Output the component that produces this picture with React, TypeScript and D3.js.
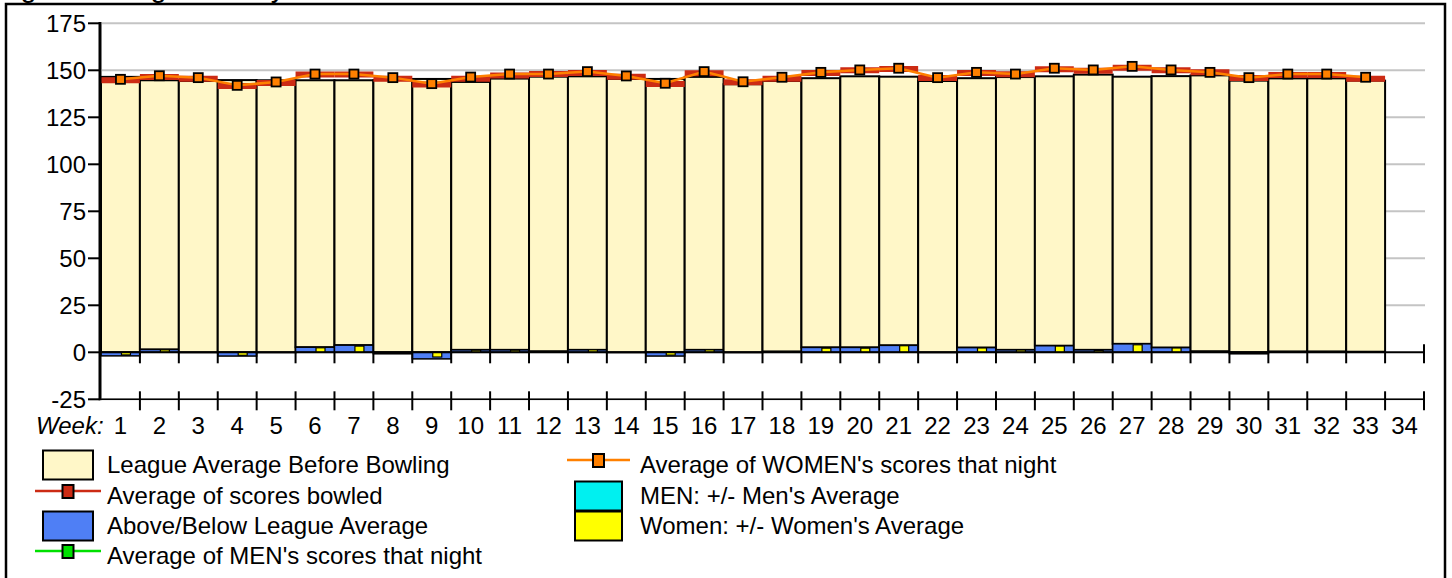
import React from 'react';
import * as d3 from 'd3';

// weeks on the x axis (34 slots, last one empty)
const weeks = ['1', '2', '3', '4', '5', '6', '7', '8', '9', '10', '11', '12', '13', '14', '15', '16', '17',
  '18', '19', '20', '21', '22', '23', '24', '25', '26', '27', '28', '29', '30', '31', '32', '33', '34'];

const leagueAvg = [146.5, 144.7, 144.3, 144.8, 144.7, 144.7, 144.7, 144.8, 145.4, 143.8, 145.6, 146.6, 146.8,
  145.4, 145.4, 146.5, 142.6, 144.3, 145.8, 146.8, 146.6, 144.3, 145.8, 146.4, 146.8, 147.7, 146.6, 146.9,
  147.3, 144.5, 145.7, 145.7, 144.5];

const scoreAvg = [144.7, 146.4, 145.5, 141.6, 143.2, 147.8, 147.8, 145.5, 142.4, 145.5, 147.2, 148.0, 148.6,
  146.6, 142.7, 148.4, 143.6, 145.5, 148.6, 150.0, 150.7, 145.9, 148.6, 147.9, 150.5, 149.8, 151.4, 150.0,
  148.9, 145.9, 147.5, 147.5, 145.5];

const aboveBelow = [-1.9, 1.5, 0, -2.0, 0, 2.7, 3.8, -0.8, -3.5, 1.3, 1.3, 0.5, 1.3, 0, -2.0, 1.3, 0, 0.4,
  2.6, 2.6, 3.7, 0, 2.5, 1.3, 3.5, 1.3, 4.5, 2.5, 0.5, -0.8, 0.4, 0.4, 0.3];

const womenAvg = [145.2, 147.1, 146.1, 142.0, 143.8, 148.0, 148.0, 146.1, 142.9, 146.4, 148.0, 148.0, 149.3,
  147.0, 143.1, 149.3, 143.9, 146.3, 148.9, 150.2, 151.1, 146.1, 148.9, 148.0, 151.1, 150.2, 152.1, 150.2,
  148.9, 146.1, 148.0, 148.0, 146.3];

const womenDiff = [-1.4, 1.3, 0, -1.6, 0, 2.4, 3.3, 0, -2.5, 1.1, 1.1, 0.3, 1.3, 0, -1.5, 1.3, 0, 0.3,
  2.2, 2.2, 3.5, 0, 2.3, 1.2, 3.3, 1.0, 4.0, 2.3, 0.3, 0, 0.3, 0.3, 0.3];

const yTicks = [-25, 0, 25, 50, 75, 100, 125, 150, 175];

const FONT = '"Liberation Sans", Arial, sans-serif';

const App = () => {
  const Width = 1452;
  const Height = 578;

  const xScale = d3.scaleBand().domain(weeks).range([101, 1424]).padding(0);
  const yScale = d3.scaleLinear().domain([-25, 175]).range([399.3, 23.3]);
  const bw = xScale.bandwidth();
  const y0 = yScale(0);
  const yBottom = yScale(-25);

  const data = leagueAvg.map((v, i) => ({
    week: weeks[i],
    league: v,
    score: scoreAvg[i],
    diff: aboveBelow[i],
    women: womenAvg[i],
    wdiff: womenDiff[i],
  }));

  const cx = (w) => xScale(w) + bw / 2;

  const womenLine = d3.line().x((d) => cx(d.week)).y((d) => yScale(d.women));

  const bars = data.map((d) => {
    const base = Math.max(0, d.diff);
    return (
      <g key={d.week}>
        <rect x={xScale(d.week)} y={yScale(d.league)} width={bw} height={yScale(base) - yScale(d.league)}
          fill="#FFF7C8" stroke="#000" strokeWidth={2} />
        {d.diff !== 0 && (
          <rect x={xScale(d.week)} y={yScale(Math.max(0, d.diff))} width={bw}
            height={Math.abs(yScale(d.diff) - y0)} fill="#4F7FF5" stroke="#000" strokeWidth={1.5} />
        )}
        {d.wdiff !== 0 && (
          <rect x={cx(d.week) + 1} y={yScale(Math.max(0, d.wdiff))} width={9}
            height={Math.abs(yScale(d.wdiff) - y0)} fill="#FFFF00" stroke="#000" strokeWidth={1.2} />
        )}
      </g>
    );
  });

  const boundaries = weeks.map((w) => xScale(w) + bw);

  const legendLeft = [
    { label: 'League Average Before Bowling', kind: 'box', color: '#FFF7C8', cy: 465 },
    { label: 'Average of scores bowled', kind: 'line', color: '#CC2B14', cy: 496 },
    { label: 'Above/Below League Average', kind: 'box', color: '#4F7FF5', cy: 526 },
    { label: "Average of MEN's scores that night", kind: 'line', color: '#00E000', cy: 556 },
  ];
  const legendRight = [
    { label: "Average of WOMEN's scores that night", kind: 'line', color: '#FF8000', cy: 465 },
    { label: "MEN: +/- Men's Average", kind: 'box', color: '#00F0F0', cy: 496 },
    { label: "Women: +/- Women's Average", kind: 'box', color: '#FFFF00', cy: 526 },
  ];

  const legendItem = (d, x0, boxX, boxW) => (
    <g key={d.label}>
      {d.kind === 'box' ? (
        <rect x={boxX} y={d.cy - 14.5} width={boxW} height={29} fill={d.color} stroke="#000" strokeWidth={2} />
      ) : (
        <g>
          <line x1={boxX - 8} x2={boxX + boxW + 8} y1={d.cy - 5} y2={d.cy - 5} stroke={d.color} strokeWidth={2.5} />
          <rect x={boxX + boxW / 2 - 5.5} y={d.cy - 11} width={11} height={13} fill={d.color} stroke="#000" strokeWidth={2} />
        </g>
      )}
      <text x={x0} y={d.cy + 8} style={{ fontSize: '24px', fontFamily: FONT }}>{d.label}</text>
    </g>
  );

  return (
    <svg width={Width} height={Height} style={{ position: 'absolute', left: 0, top: 0, background: '#fff' }}>
      <text x={-28} y={-3} style={{ fontSize: '29px', fontFamily: FONT }}>League Average Weekly</text>
      <rect x={6} y={4} width={1439} height={590} fill="none" stroke="#000" strokeWidth={2.5} />

      {/* grid */}
      {yTicks.filter((t) => t !== 0).map((t) => (
        <line key={t} x1={102} x2={1425} y1={yScale(t)} y2={yScale(t)} stroke="#C4C4C4" strokeWidth={2} />
      ))}

      {bars}

      {/* zero line + ticks */}
      <line x1={101} x2={1425} y1={y0} y2={y0} stroke="#000" strokeWidth={2} />
      {boundaries.map((x, i) => (
        <line key={i} x1={x} x2={x} y1={i === boundaries.length - 1 ? y0 - 8 : y0} y2={y0 + 11}
          stroke="#000" strokeWidth={2} />
      ))}

      {/* average of scores bowled */}
      {data.map((d) => (
        <line key={d.week} x1={xScale(d.week)} x2={xScale(d.week) + bw} y1={yScale(d.score)} y2={yScale(d.score)}
          stroke="#CC2B14" strokeWidth={6} />
      ))}

      {/* women's average */}
      <path d={womenLine(data)} fill="none" stroke="#FF8000" strokeWidth={2.5} />
      {data.map((d) => (
        <rect key={d.week} x={cx(d.week) - 4.5} y={yScale(d.women) - 4.5} width={9} height={9}
          fill="#FF8000" stroke="#000" strokeWidth={1.8} />
      ))}

      {/* bottom axis */}
      <line x1={101} x2={1425} y1={yBottom} y2={yBottom} stroke="#000" strokeWidth={1.5} />
      {boundaries.map((x, i) => (
        <line key={i} x1={x} x2={x} y1={yBottom - 8} y2={yBottom + 11} stroke="#000" strokeWidth={2} />
      ))}
      <text x={36} y={434} style={{ fontSize: '24px', fontFamily: FONT, fontStyle: 'italic' }}>Week:</text>
      {weeks.map((w) => (
        <text key={w} x={cx(w)} y={434} textAnchor="middle" style={{ fontSize: '24px', fontFamily: FONT }}>{w}</text>
      ))}

      {/* y axis */}
      <line x1={100} x2={100} y1={22} y2={yBottom + 1} stroke="#000" strokeWidth={3} />
      {yTicks.map((t) => (
        <g key={t}>
          <line x1={88} x2={100} y1={yScale(t)} y2={yScale(t)} stroke="#000" strokeWidth={2} />
          <text x={86} y={yScale(t) + 8.5} textAnchor="end" style={{ fontSize: '24px', fontFamily: FONT }}>{t}</text>
        </g>
      ))}

      {/* legend */}
      {legendLeft.map((d) => legendItem(d, 107, 43, 50))}
      {legendRight.map((d) => legendItem(d, 640, 575, 47))}
    </svg>
  );
};

export default App;
